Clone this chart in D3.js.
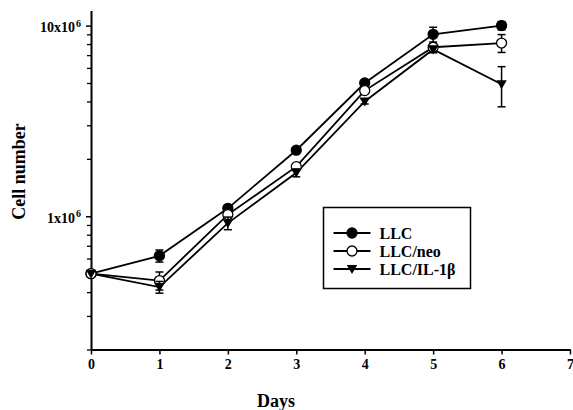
<!DOCTYPE html>
<html><head><meta charset="utf-8">
<script src="https://cdn.jsdelivr.net/npm/d3@7"></script>
<style>
body{margin:0;background:#fff}
svg{display:block}
text{font-family:"Liberation Serif","Times New Roman",serif;font-weight:bold;fill:#000}
</style>
</head><body>
<svg id="c" width="573" height="410"></svg>
<script>
// ---- data ----
const days = [0, 1, 2, 3, 4, 5, 6];
const llc    = [5.0e5, 6.2e5, 1.10e6, 2.22e6, 5.0e6, 9.0e6, 1.0e7];
const llcErr = [0, 0.45e5, 0.04e6, 0.06e6, 0.15e6, 0.8e6, 0.5e6];
const neo    = [5.0e5, 4.6e5, 1.02e6, 1.82e6, 4.56e6, 7.7e6, 8.1e6];
const neoErr = [0, 0.5e5, 0.04e6, 0.06e6, 0.15e6, 0.3e6, 0.87e6];
const il     = [5.0e5, 4.25e5, 0.92e6, 1.69e6, 4.0e6, 7.5e6, 4.92e6];
const ilErr  = [0, 0.3e5, 0.07e6, 0.08e6, 0.12e6, 0.3e6, 1.17e6];
const seriesNames = ["LLC", "LLC/neo", "LLC/IL-1β"];
const xTicks = [0, 1, 2, 3, 4, 5, 6, 7];
const yMajor = [1e6, 1e7];
const yMajorLabels = ["1x10", "10x10"];
const yExponent = "6";
const yMinor = [2e5,3e5,4e5,5e5,6e5,7e5,8e5,9e5,2e6,3e6,4e6,5e6,6e6,7e6,8e6,9e6];
const xTitle = "Days";
const yTitle = "Cell number";

// ---- layout ----
const svg = d3.select("#c");
const X0 = 91, X1 = 570, YB = 349.5, YT = 10.5;
const x = d3.scaleLinear().domain([0, 7]).range([X0, X1]);
const y = d3.scaleLog().domain([2e5, 1.2e7]).range([YB, YT]);

// axes
const gx = svg.append("g").attr("transform", `translate(0,${YB})`)
  .call(d3.axisBottom(x).tickValues(xTicks).tickSize(5).tickSizeOuter(0).tickFormat(d3.format("d")));
gx.select(".domain").attr("stroke-width", 2);
gx.selectAll(".tick line").attr("stroke-width", 1.5);
gx.selectAll(".tick text").attr("font-size", 14).attr("y", 0).attr("dy", null)
  .attr("transform", "translate(0,19.5)").style("font-family", "Liberation Serif").style("font-weight", "bold");

const gy = svg.append("g").attr("transform", `translate(${X0},0)`)
  .call(d3.axisLeft(y).tickValues(yMinor).tickSize(4).tickSizeOuter(0).tickFormat(""));
gy.select(".domain").attr("stroke-width", 2);
gy.selectAll(".tick line").attr("stroke-width", 1.3);
const gyM = svg.append("g").attr("transform", `translate(${X0},0)`)
  .call(d3.axisLeft(y).tickValues(yMajor).tickSize(5).tickSizeOuter(0).tickFormat(""));
gyM.select(".domain").remove();
gyM.selectAll(".tick line").attr("stroke-width", 1.5);
gyM.selectAll(".tick").each(function(d, i) {
  const t = d3.select(this).append("text").attr("x", -16).attr("y", 6)
    .attr("text-anchor", "end").attr("font-size", 14).attr("font-family", "Liberation Serif")
    .attr("font-weight", "bold").attr("fill", "#000").text(yMajorLabels[i]);
  d3.select(this).append("text").attr("x", -16).attr("y", 0.5)
    .attr("text-anchor", "start").attr("font-size", 10).attr("font-family", "Liberation Serif")
    .attr("font-weight", "bold").attr("fill", "#000").attr("dx", 1).text(yExponent);
});

// titles
svg.append("text").attr("x", 276).attr("y", 407).attr("text-anchor", "middle")
  .attr("font-size", 18).text(xTitle);
svg.append("text").attr("transform", "translate(25,171.5) rotate(-90)").attr("text-anchor", "middle")
  .attr("font-size", 18).text(yTitle);

// ---- series ----
const series = [
  {name: seriesNames[0], v: llc, e: llcErr, type: "filled"},
  {name: seriesNames[1], v: neo, e: neoErr, type: "open"},
  {name: seriesNames[2], v: il,  e: ilErr,  type: "tri"}
];
const line = d3.line().x(d => x(d[0])).y(d => y(d[1]));
function marker(g, type, cx, cy) {
  if (type === "tri") {
    g.append("path").attr("d", `M${cx-5.2},${cy-4}L${cx+5.2},${cy-4}L${cx},${cy+5}Z`).attr("fill", "#000");
  } else {
    g.append("circle").attr("cx", cx).attr("cy", cy).attr("r", 5)
      .attr("fill", type === "filled" ? "#000" : "#fff").attr("stroke", "#000").attr("stroke-width", 1.3);
  }
}
const plot = svg.append("g");
series.forEach(s => {
  plot.append("path").datum(days.map((d, i) => [d, s.v[i]])).attr("d", line)
    .attr("fill", "none").attr("stroke", "#000").attr("stroke-width", 1.8);
});
series.forEach(s => {
  const g = plot.append("g");
  days.forEach((d, i) => {
    if (s.e[i] > 0) {
      const cx = x(d), yt = y(s.v[i] + s.e[i]), yb = y(s.v[i] - s.e[i]);
      g.append("line").attr("x1", cx).attr("x2", cx).attr("y1", yt).attr("y2", yb).attr("stroke", "#000").attr("stroke-width", 1.5);
      [yt, yb].forEach(yy => g.append("line").attr("x1", cx - 4).attr("x2", cx + 4).attr("y1", yy).attr("y2", yy)
        .attr("stroke", "#000").attr("stroke-width", 1.5));
    }
  });
  days.forEach((d, i) => marker(g, s.type, x(d), y(s.v[i])));
});

// ---- legend ----
const lg = svg.append("g");
lg.append("rect").attr("x", 323.5).attr("y", 207.5).attr("width", 147).attr("height", 81)
  .attr("fill", "#fff").attr("stroke", "#000").attr("stroke-width", 1.5);
const rowY = d3.scalePoint().domain(seriesNames).range([233, 269]);
series.forEach(s => {
  const ry = rowY(s.name);
  lg.append("line").attr("x1", 333.5).attr("x2", 370.5).attr("y1", ry).attr("y2", ry)
    .attr("stroke", "#000").attr("stroke-width", 1.8);
  marker(lg, s.type, 352, ry);
  lg.append("text").attr("x", 379.5).attr("y", ry + 5.5).attr("font-size", 16).text(s.name);
});
</script>
</body></html>
